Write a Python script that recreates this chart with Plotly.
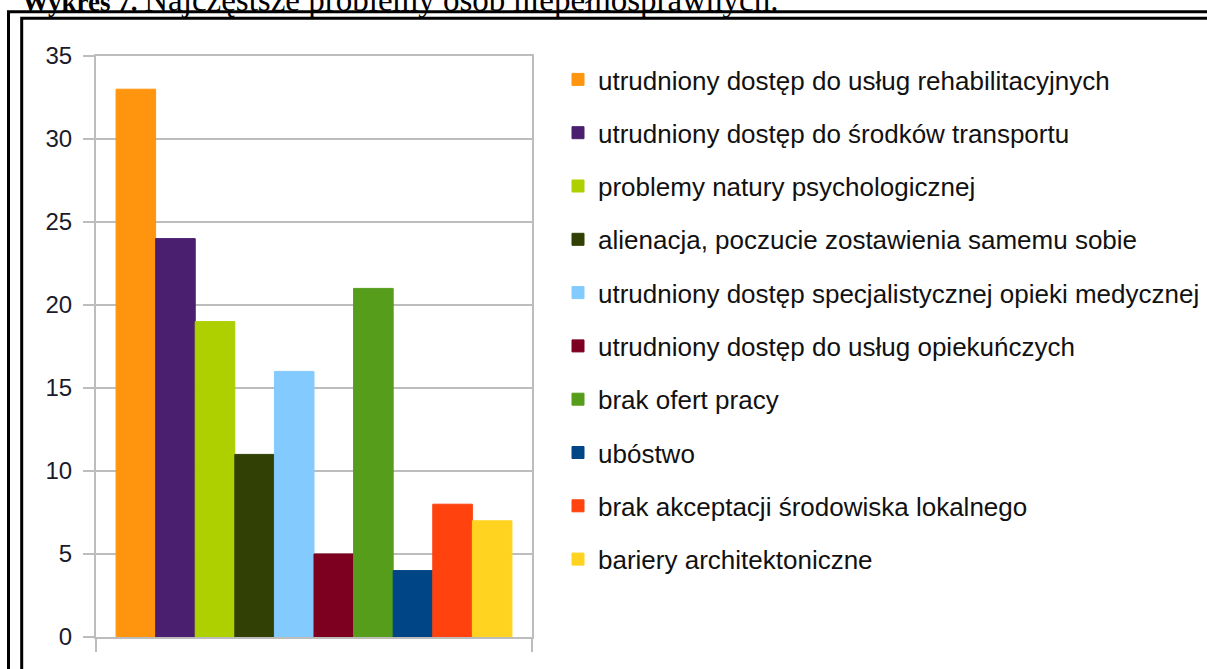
import plotly.graph_objects as go

# ---- data ----
categories = [
    "utrudniony dostęp do usług rehabilitacyjnych",
    "utrudniony dostęp do środków transportu",
    "problemy natury psychologicznej",
    "alienacja, poczucie zostawienia samemu sobie",
    "utrudniony dostęp specjalistycznej opieki medycznej",
    "utrudniony dostęp do usług opiekuńczych",
    "brak ofert pracy",
    "ubóstwo",
    "brak akceptacji środowiska lokalnego",
    "bariery architektoniczne",
]
values = [33, 24, 19, 11, 16, 5, 21, 4, 8, 7]
colors = ["#ff950e", "#4b1f6f", "#aecf00", "#314004", "#83caff",
          "#7e0021", "#579d1c", "#004586", "#ff420e", "#ffd320"]
y_ticks = [0, 5, 10, 15, 20, 25, 30, 35]
title_bold = "Wykres 7."
title_text = "Najczęstsze problemy osób niepełnosprawnych."

# ---- layout geometry (pixels) ----
W, H = 1207, 669
L, R, T, B = 96, 532, 56, 637


def xp(px):
    return (px - L) / (R - L)


def yp(py):
    return (B - py) / (B - T)


fig = go.Figure()
for name, v, c in zip(categories, values, colors):
    fig.add_trace(go.Bar(
        x=[""], y=[v], name=name, legendgroup=name,
        marker=dict(color=c, line=dict(color=c, width=1)),
        hoverinfo="name+y",
    ))

grid = "#bdbdbd"
fig.update_layout(
    width=W, height=H,
    margin=dict(l=L, r=W - R, t=T, b=H - B, pad=0, autoexpand=False),
    paper_bgcolor="white", plot_bgcolor="white",
    barmode="group", bargap=0.092, bargroupgap=0,
    showlegend=True,
    legend=dict(
        x=xp(558), y=yp(56), xanchor="left", yanchor="top",
        font=dict(family="Liberation Sans, Arial", size=26, color="#111111"),
        tracegroupgap=16.5, traceorder="grouped",
        bgcolor="rgba(0,0,0,0)", borderwidth=0,
    ),
    xaxis=dict(
        type="category", showticklabels=False, showgrid=False,
        tickson="boundaries", ticks="outside", ticklen=13, tickwidth=2,
        tickcolor=grid, showline=True, linecolor=grid, linewidth=2,
        mirror=True, zeroline=False, fixedrange=True,
    ),
    yaxis=dict(
        range=[0, 35], tickvals=y_ticks, ticks="outside", ticklen=11,
        tickwidth=2, tickcolor=grid, showgrid=True, gridcolor=grid,
        gridwidth=2, showline=True, linecolor=grid, linewidth=2,
        mirror=True, zeroline=False, ticklabelstandoff=6,
        tickfont=dict(family="Liberation Sans, Arial", size=24, color="#1a1a2a"),
        fixedrange=True,
    ),
)

# double frame lines (extending beyond the visible page)
for x0, y0 in [(8.5, 11.7), (21.7, 18.3)]:
    fig.add_shape(type="rect", xref="paper", yref="paper",
                  x0=xp(x0), y0=yp(y0), x1=xp(W + 40), y1=yp(H + 40),
                  line=dict(color="black", width=3), fillcolor="rgba(0,0,0,0)")

# cropped caption at the very top
fig.add_annotation(
    xref="paper", yref="paper", x=xp(20), y=yp(20),
    xanchor="left", yanchor="bottom", showarrow=False,
    text="<b>" + title_bold + "</b> <span style='font-size:33px'>"
         + title_text + "</span>",
    font=dict(family="Liberation Serif, Times New Roman", size=27, color="black"),
)

fig.write_html(
    "out.html",
    config={"displayModeBar": False},
    post_script="document.body.style.margin='0';document.body.style.overflow='hidden';",
)
